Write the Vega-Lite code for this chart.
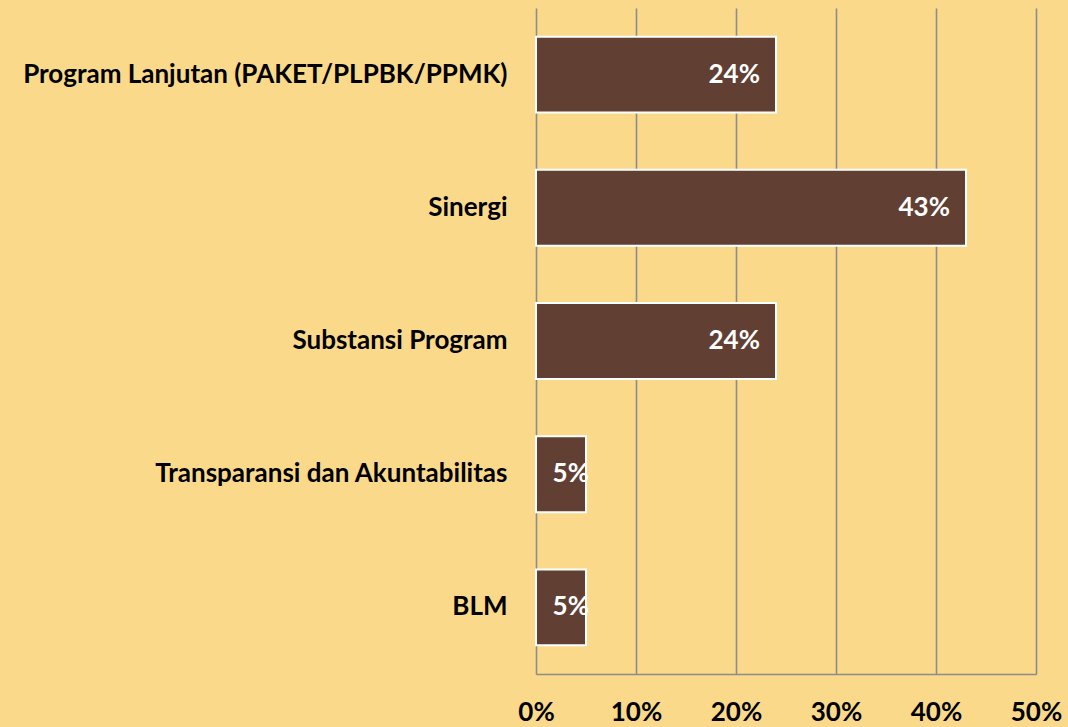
{
  "$schema": "https://vega.github.io/schema/vega-lite/v6.json",
  "autosize": {"type": "none"},
  "padding": {"left": 536, "top": 8, "right": 32, "bottom": 53},
  "width": 500,
  "height": 666,
  "background": "#FADA8A",
  "config": {
    "view": {"stroke": null},
    "font": "Lato",
    "axis": {"labelFont": "Lato", "labelFontWeight": "bold", "labelColor": "#000000"}
  },
  "data": {
    "values": [
      {"kategori": "Program Lanjutan (PAKET/PLPBK/PPMK)", "nilai": 0.24},
      {"kategori": "Sinergi", "nilai": 0.43},
      {"kategori": "Substansi Program", "nilai": 0.24},
      {"kategori": "Transparansi dan Akuntabilitas", "nilai": 0.05},
      {"kategori": "BLM", "nilai": 0.05}
    ]
  },
  "encoding": {
    "y": {
      "field": "kategori",
      "type": "nominal",
      "sort": null,
      "scale": {"paddingInner": 0.43, "paddingOuter": 0.215},
      "axis": {"title": null, "domain": false, "ticks": false, "grid": false, "labelFontSize": 26, "labelPadding": 29, "labelLimit": 700}
    },
    "x": {
      "field": "nilai",
      "type": "quantitative",
      "scale": {"domain": [0, 0.5], "nice": false},
      "axis": {
        "title": null,
        "format": ".0%",
        "values": [0, 0.1, 0.2, 0.3, 0.4, 0.5],
        "grid": true,
        "gridColor": "#8C8C8C",
        "gridWidth": 1.6,
        "domain": true,
        "domainColor": "#8C8C8C",
        "domainWidth": 1.6,
        "ticks": false,
        "labelFontSize": 26,
        "labelPadding": 25,
        "labelFlush": false,
        "labelOverlap": false
      }
    }
  },
  "layer": [
    {"mark": {"type": "bar", "color": "#623F33", "stroke": "#FFFFFF", "strokeWidth": 2}},
    {
      "transform": [{"filter": "datum.nilai > 0.1"}],
      "mark": {"type": "text", "align": "right", "baseline": "middle", "dx": -16, "color": "#FFFFFF", "fontWeight": "bold", "fontSize": 26, "font": "Lato"},
      "encoding": {"text": {"field": "nilai", "type": "quantitative", "format": ".0%"}}
    },
    {
      "transform": [{"filter": "datum.nilai <= 0.1"}],
      "mark": {"type": "text", "align": "right", "baseline": "middle", "dx": 3, "color": "#FFFFFF", "fontWeight": "bold", "fontSize": 26, "font": "Lato"},
      "encoding": {"text": {"field": "nilai", "type": "quantitative", "format": ".0%"}}
    }
  ]
}
